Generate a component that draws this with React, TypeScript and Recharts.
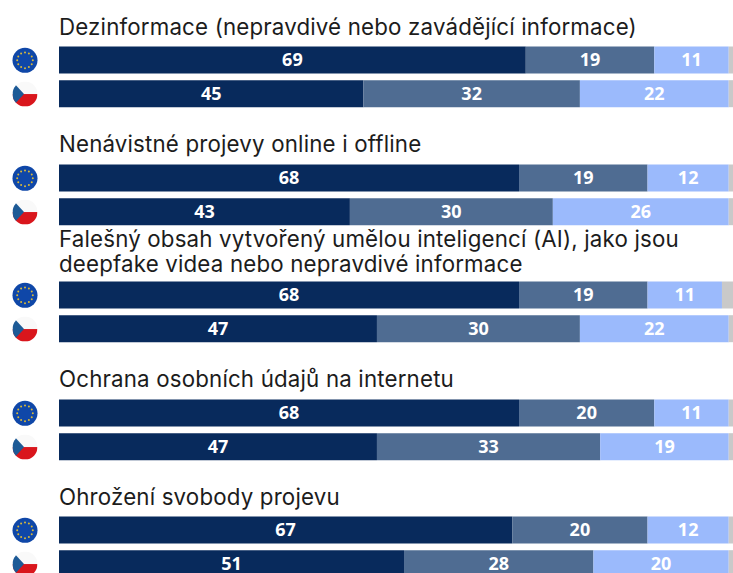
import * as React from "react";
import { Bar, BarChart, LabelList, XAxis, YAxis } from "recharts";

const topics = [
  ["Dezinformace (nepravdivé nebo zavádějící informace)"],
  ["Nenávistné projevy online i offline"],
  [
    "Falešný obsah vytvořený umělou inteligencí (AI), jako jsou",
    "deepfake videa nebo nepravdivé informace",
  ],
  ["Ochrana osobních údajů na internetu"],
  ["Ohrožení svobody projevu"],
];
const regions = ["EU", "CZ"];

// each pair is EU, CZ
const bigProblem = [[69, 45], [68, 43], [68, 47], [68, 47], [67, 51]];
const someProblem = [[19, 32], [19, 30], [19, 30], [20, 33], [20, 28]];
const smallProblem = [[11, 22], [12, 26], [11, 22], [11, 19], [12, 20]];
const dontKnow = [[1, 1], [1, 1], [2, 1], [1, 1], [1, 1]];

const COLORS = ["#082a5c", "#4f6c92", "#9bbafc", "#c9c9c9"];

const FlagTick = (props: any) => {
  const { y, payload } = props;
  const id = `clip-${Math.round(y)}`;
  const cx = 25;
  const r = 12.5;
  if (payload.value === "EU") {
    return (
      <g>
        <circle cx={cx} cy={y} r={r} fill="#0f47a8" />
        {Array.from({ length: 12 }).map((_, i) => (
          <circle
            key={i}
            cx={cx + 7.8 * Math.cos((i * Math.PI) / 6)}
            cy={y + 7.8 * Math.sin((i * Math.PI) / 6)}
            r={1}
            fill="#d9b93a"
          />
        ))}
      </g>
    );
  }
  return (
    <g>
      <clipPath id={id}>
        <circle cx={cx} cy={y} r={r} />
      </clipPath>
      <g clipPath={`url(#${id})`}>
        <rect x={cx - r} y={y - r} width={r * 2} height={r} fill="#f9f9f9" />
        <rect x={cx - r} y={y} width={r * 2} height={r} fill="#d9161c" />
        <path
          d={`M${cx - r} ${y - r}L${cx - 1} ${y}L${cx - r} ${y + r}Z`}
          fill="#1d5a96"
        />
      </g>
    </g>
  );
};

const Facet = ({ index }: { index: number }) => {
  const data = regions.map((region, r) => ({
    region,
    big: bigProblem[index][r],
    some: someProblem[index][r],
    small: smallProblem[index][r],
    none: dontKnow[index][r],
  }));
  const labelStyle = {
    fill: "#ffffff",
    fontFamily: "'Noto Sans'",
    fontWeight: 700,
    fontSize: 18,
  };

  return (
    <div style={{ position: "relative", width: 736, height: 117.5 }}>
      <div
        style={{
          position: "absolute",
          left: 59,
          // the two-line title sits a bit lower than the others
          bottom: index === 2 ? 76.5 : 79,
          whiteSpace: "nowrap",
          fontFamily: "Inter",
          fontSize: 22.3,
          letterSpacing: 0.17,
          lineHeight: "25px",
          color: "#1c1c1c",
        }}
      >
        {topics[index].map((line) => (
          <div key={line}>{line}</div>
        ))}
      </div>
      <BarChart
        width={736}
        height={117.5}
        data={data}
        layout="vertical"
        barSize={27}
        barGap={0}
        margin={{ top: 43.5, right: 0.5, bottom: 6.6, left: 0 }}
      >
        <XAxis type="number" domain={[0, 100]} hide />
        <YAxis
          type="category"
          dataKey="region"
          width={59}
          axisLine={false}
          tickLine={false}
          tick={<FlagTick />}
        />
        <Bar dataKey="big" stackId="a" fill={COLORS[0]} isAnimationActive={false}>
          <LabelList dataKey="big" position="center" style={labelStyle} />
        </Bar>
        <Bar dataKey="some" stackId="a" fill={COLORS[1]} isAnimationActive={false}>
          <LabelList dataKey="some" position="center" style={labelStyle} />
        </Bar>
        <Bar dataKey="small" stackId="a" fill={COLORS[2]} isAnimationActive={false}>
          <LabelList dataKey="small" position="center" style={labelStyle} />
        </Bar>
        <Bar dataKey="none" stackId="a" fill={COLORS[3]} isAnimationActive={false} />
      </BarChart>
    </div>
  );
};

export default function App() {
  return (
    <div
      style={{
        position: "fixed",
        left: 0,
        top: 0,
        width: 733,
        height: 573,
        overflow: "hidden",
        background: "#ffffff",
      }}
    >
      {topics.map((_, i) => (
        <Facet key={i} index={i} />
      ))}
    </div>
  );
}
